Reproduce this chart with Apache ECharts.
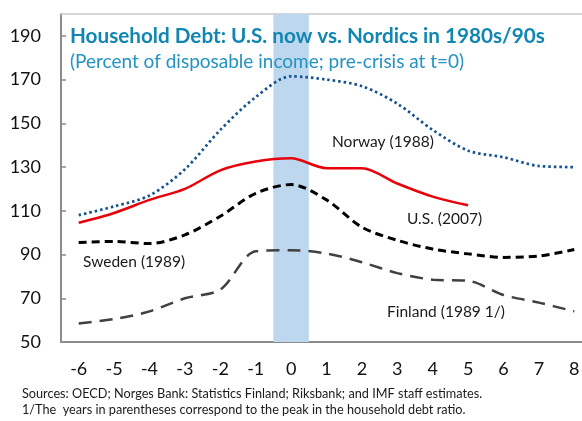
<!DOCTYPE html>
<html>
<head>
<meta charset="utf-8">
<script src="https://cdn.jsdelivr.net/npm/echarts@6/dist/echarts.min.js"></script>
<style>
  html, body { margin: 0; padding: 0; background: #fff; }
  #chart { width: 582px; height: 421px; }
</style>
</head>
<body>
<div id="chart"></div>
<script>
// years relative to pre-crisis peak (t=0)
const years = ['-6', '-5', '-4', '-3', '-2', '-1', '0', '1', '2', '3', '4', '5', '6', '7', '8'];
const norway = [108, 112, 117, 129, 147, 162, 171.5, 170, 167, 159, 147, 137.5, 134.5, 130.5, 130];
const us = [104.5, 109, 115, 120, 128.5, 132.5, 134, 129.5, 129.5, 122.5, 116.5, 112.5];
const sweden = [95.5, 96, 95, 99, 107.5, 118, 122, 115, 102.5, 96.5, 92.5, 90.3, 88.7, 89.3, 92.3];
const finland = [58.5, 60.5, 64, 70, 74, 91.5, 92, 90.5, 86.5, 81.5, 78.5, 78, 71.5, 68, 64];
const crisisYear = '0';
const yMin = 50, yMax = 200, yStep = 20;

const chart = echarts.init(document.getElementById('chart'));

const font = 'Lato, Open Sans, sans-serif';

const option = {
  animation: false,
  grid: { left: 61, top: 14, width: 531, bottom: 79, outerBoundsMode: 'none' },
  xAxis: [
    {
      type: 'category',
      data: years,
      boundaryGap: true,
      axisLine: { lineStyle: { color: '#8c8c8c', width: 2 } },
      axisTick: { inside: true, length: 6, lineStyle: { color: '#8c8c8c', width: 1.5 } },
      axisLabel: { color: '#111', fontSize: 18, margin: 18, fontFamily: font }
    },
    {
      type: 'category',
      data: years,
      position: 'top',
      axisLine: { lineStyle: { color: '#c8c8c8', width: 1.5 } },
      axisTick: { show: false },
      axisLabel: { show: false }
    }
  ],
  yAxis: {
    type: 'value',
    min: yMin,
    max: yMax,
    interval: yStep,
    axisLine: { show: true, lineStyle: { color: '#8c8c8c', width: 2 } },
    axisTick: { show: true, inside: true, length: 5, lineStyle: { color: '#8c8c8c', width: 1.5 } },
    splitLine: { show: false },
    axisLabel: { color: '#111', fontSize: 18, margin: 20, fontFamily: font, showMaxLabel: false }
  },
  series: [
    {
      // shaded crisis year
      type: 'bar',
      barWidth: '100%',
      silent: true,
      z: 0,
      itemStyle: { color: '#bdd7ee' },
      data: years.map(y => (y === crisisYear ? yMax : null))
    },
    {
      name: 'Norway (1988)',
      type: 'line',
      smooth: 0.3,
      symbol: 'none',
      lineStyle: { color: '#14508f', width: 2.7, type: [2.5, 3] },
      data: norway
    },
    {
      name: 'U.S. (2007)',
      type: 'line',
      smooth: 0.3,
      symbol: 'none',
      lineStyle: { color: '#e8000b', width: 2.5 },
      data: us
    },
    {
      name: 'Sweden (1989)',
      type: 'line',
      smooth: 0.3,
      symbol: 'none',
      lineStyle: { color: '#000', width: 3, type: [8, 5] },
      data: sweden
    },
    {
      name: 'Finland (1989 1/)',
      type: 'line',
      smooth: 0.3,
      symbol: 'none',
      lineStyle: { color: '#404040', width: 2.5, type: [13, 8] },
      data: finland
    }
  ],
  graphic: [
    { type: 'text', z: 100, left: 70, top: 26, style: { text: 'Household Debt: U.S. now vs. Nordics in 1980s/90s', font: 'bold 20.7px ' + font, fill: '#1186b2' } },
    { type: 'text', z: 100, left: 70, top: 52, style: { text: '(Percent of disposable income; pre-crisis at t=0)', font: '19px ' + font, fill: '#2393c3' } },
    { type: 'text', z: 100, left: 332, top: 134, style: { text: 'Norway (1988)', font: '15.5px ' + font, fill: '#1a1a1a' } },
    { type: 'text', z: 100, left: 407, top: 211, style: { text: 'U.S. (2007)', font: '15.5px ' + font, fill: '#1a1a1a' } },
    { type: 'text', z: 100, left: 83, top: 254, style: { text: 'Sweden (1989)', font: '15.5px ' + font, fill: '#1a1a1a' } },
    { type: 'text', z: 100, left: 387, top: 304, style: { text: 'Finland (1989 1/)', font: '15.5px ' + font, fill: '#1a1a1a' } },
    { type: 'text', z: 100, left: 22, top: 387, style: { text: 'Sources: OECD; Norges Bank: Statistics Finland; Riksbank; and IMF staff estimates.', font: '12.7px ' + font, fill: '#1a1a1a' } },
    { type: 'text', z: 100, left: 22, top: 403, style: { text: '1/The  years in parentheses correspond to the peak in the household debt ratio.', font: '12.7px ' + font, fill: '#1a1a1a' } }
  ]
};

chart.setOption(option);
window.addEventListener('resize', () => chart.resize());
</script>
</body>
</html>
